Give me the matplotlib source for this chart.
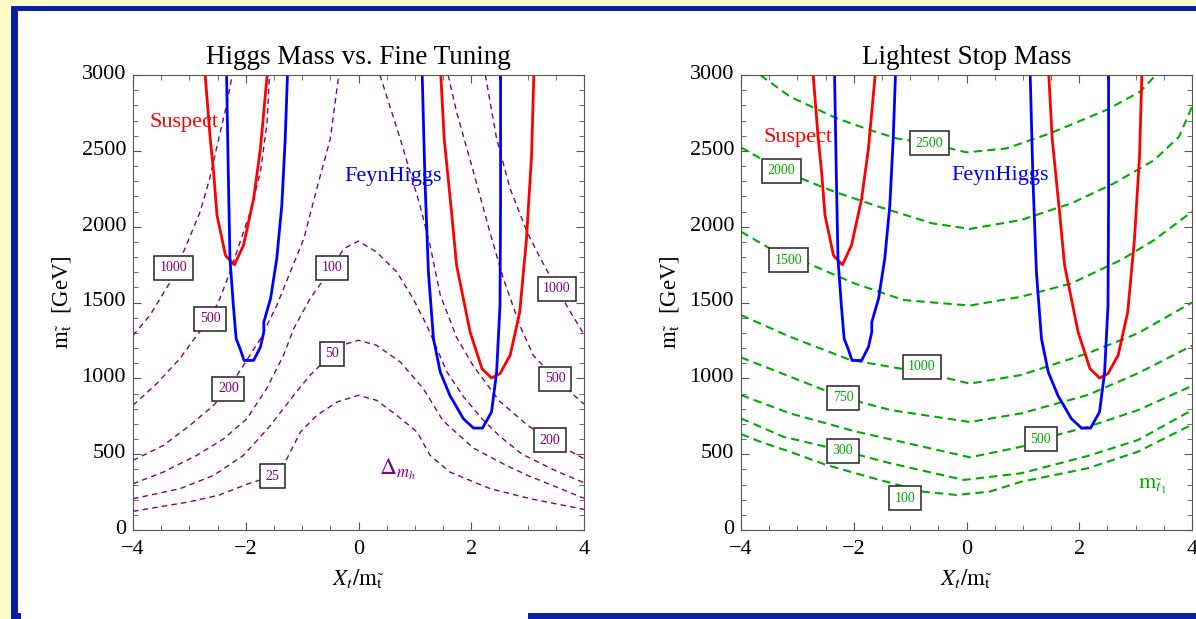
import matplotlib
matplotlib.use("Agg")
import matplotlib.pyplot as plt
from matplotlib.patches import Rectangle
from matplotlib.ticker import MultipleLocator
from matplotlib.transforms import ScaledTranslation

plt.rcParams['font.family'] = ['Liberation Serif', 'DejaVu Serif']
plt.rcParams['mathtext.fontset'] = 'stix'

# Suspect (red) and FeynHiggs (blue) m_h = 125 GeV curves, shared by both panels
suspect_l_x = [-2.72, -2.63, -2.57, -2.51, -2.36, -2.28, -2.2, -2.04, -1.86, -1.74, -1.62]
suspect_l_y = [3000, 2580, 2360, 2075, 1811, 1778, 1749, 1877, 2185, 2514, 3000]
suspect_r_x = [1.46, 1.52, 1.65, 1.74, 1.98, 2.19, 2.36, 2.51, 2.69, 2.86, 2.98, 3.07, 3.11]
suspect_r_y = [3000, 2580, 2097, 1745, 1305, 1064, 1002, 1031, 1152, 1437, 1921, 2470, 3000]
feyn_l_x = [-2.34, -2.31, -2.28, -2.22, -2.17, -2.1, -2.03, -1.86, -1.74, -1.68, -1.68,
            -1.56, -1.45, -1.36, -1.30, -1.26]
feyn_l_y = [3000, 2360, 1789, 1481, 1261, 1195, 1118, 1118, 1206, 1305, 1371,
            1525, 1789, 2141, 2580, 3000]
feyn_r_x = [1.13, 1.18, 1.24, 1.33, 1.45, 1.62, 1.86, 2.04, 2.2, 2.36, 2.45, 2.51, 2.52, 2.52]
feyn_r_y = [3000, 2294, 1701, 1261, 1042, 888, 734, 672, 672, 778, 1042, 1481, 2141, 3000]

# fine tuning contours (left panel), each as separate branches
ft_levels = ['1000', '500', '200', '100', '50', '25']
ft_lines = {
    '1000': [([-4, -3.70, -3.34, -3.08, -2.81, -2.64, -2.48, -2.34, -2.24],
              [1283, 1415, 1635, 1855, 2097, 2316, 2580, 2800, 3000]),
             ([2.25, 2.45, 2.69, 2.99, 3.23, 3.52, 3.76, 4.0],
              [3000, 2580, 2250, 1965, 1789, 1591, 1437, 1290])],
    '500': [([-4, -3.58, -3.17, -2.87, -2.63, -2.46, -2.28, -2.1, -1.92, -1.74, -1.62, -1.58],
             [822, 965, 1129, 1283, 1393, 1525, 1701, 1899, 2097, 2360, 2690, 3000]),
            ([1.59, 1.74, 2.04, 2.33, 2.57, 2.86, 3.1, 3.49, 4.0],
             [3000, 2756, 2360, 1965, 1657, 1350, 1152, 998, 830])],
    '200': [([-4, -3.46, -2.99, -2.57, -2.31, -2.04, -1.74, -1.45, -1.21, -0.97, -0.74, -0.5, -0.35],
             [459, 558, 690, 822, 932, 1086, 1261, 1481, 1701, 1921, 2250, 2580, 3000]),
            ([0.38, 0.74, 1.09, 1.27, 1.45, 1.74, 2.04, 2.5, 3.0, 3.4, 4.0],
             [3000, 2580, 2141, 1877, 1550, 1270, 1080, 850, 690, 591, 470])],
    '100': [([-4, -3.46, -2.87, -2.39, -1.98, -1.63, -1.33, -1.15, -0.86, -0.47, -0.26, 0,
              0.32, 0.68, 0.97, 1.21, 1.39, 1.57, 1.86, 2.2, 2.5, 2.9, 3.5, 4.0],
             [305, 382, 492, 602, 734, 932, 1152, 1327, 1525, 1730, 1855, 1905,
              1833, 1701, 1525, 1350, 1195, 1042, 880, 730, 620, 500, 390, 312])],
    '50': [([-4, -3.17, -2.57, -2.04, -1.56, -1.15, -0.86, -0.47, -0.21, 0,
             0.32, 0.74, 1.15, 1.5, 2.04, 2.6, 3.0, 3.5, 4.0],
            [206, 272, 360, 492, 690, 888, 1020, 1163, 1228, 1251,
             1218, 1108, 932, 720, 540, 430, 360, 285, 209])],
    '25': [([-4, -3.01, -2.48, -1.95, -1.53, -1.27, -1.03, -0.74, -0.38, 0,
             0.32, 0.68, 1.04, 1.27, 1.62, 2.34, 3.05, 4.0],
            [123, 185, 229, 306, 354, 470, 646, 756, 844, 888,
             855, 756, 646, 492, 382, 272, 206, 136])],
}
ft_label_x = [-3.28, 3.52, -2.63, 3.49, -2.31, 3.40, -0.47, -0.47, -1.53]
ft_label_y = [1730, 1591, 1393, 998, 932, 591, 1730, 1163, 354]
ft_label_txt = ['1000', '1000', '500', '500', '200', '200', '100', '50', '25']

# lightest stop mass contours (right panel)
stop_lines = {
    '2500': ([-3.66, -3.13, -2.3, -1.71, -1.24, -0.66, 0.0, 0.71, 1.48, 2.48, 3.08, 3.36],
             [3000, 2857, 2714, 2637, 2582, 2549, 2490, 2516, 2615, 2769, 2890, 3000]),
    '2000': ([-4, -3.28, -2.35, -1.56, -0.61, 0.06, 0.97, 1.86, 2.62, 3.33, 3.77, 4.0],
             [2523, 2369, 2231, 2132, 2022, 1985, 2044, 2154, 2286, 2439, 2593, 2790]),
    '1500': ([-4, -3.49, -2.81, -1.99, -1.11, 0.06, 0.97, 1.86, 2.74, 3.33, 4.0],
             [1967, 1857, 1758, 1626, 1516, 1480, 1538, 1626, 1780, 1912, 2099]),
    '1000': ([-4, -3.13, -2.06, -0.79, 0.06, 0.97, 2.15, 3.04, 4.0],
             [1417, 1274, 1121, 1040, 965, 1022, 1165, 1297, 1500]),
    '750': ([-4, -3.13, -2.18, -1.35, 0.06, 0.97, 2.15, 3.04, 4.0],
            [1138, 1011, 872, 791, 712, 769, 890, 1033, 1215]),
    '500': ([-4, -3.13, -1.95, -0.77, 0.06, 0.97, 1.31, 2.15, 3.04, 4.0],
            [890, 769, 648, 549, 479, 549, 598, 680, 790, 950]),
    '300': ([-4, -3.25, -2.18, -1.35, -0.05, 0.97, 2.15, 3.04, 4.0],
            [736, 615, 521, 440, 330, 374, 488, 593, 790]),
    '100': ([-4, -3.66, -3.13, -2.48, -1.65, -0.77, -0.18, 0.41, 0.97, 2.15, 3.04, 4.0],
            [633, 582, 516, 428, 341, 253, 231, 253, 318, 407, 516, 695]),
}
stop_label_txt = ['2500', '2000', '1500', '1000', '750', '500', '300', '100']
stop_label_x = [-0.66, -3.28, -3.16, -0.79, -2.19, 1.32, -2.19, -1.09]
stop_label_y = [2549, 2369, 1780, 1077, 872, 598, 521, 209]

W, H = 1196, 619
fig = plt.figure(figsize=(W / 100, H / 100), dpi=100)
fig.patch.set_facecolor('#fffcc9')


def px_rect(x0, y0, x1, y1, color):
    fig.patches.append(Rectangle((x0 / W, 1 - y1 / H), (x1 - x0) / W, (y1 - y0) / H,
                                 transform=fig.transFigure, facecolor=color,
                                 edgecolor='none', zorder=-5))


blue = '#0a1ea8'
px_rect(18, 11, W, H, 'white')
px_rect(11, 6, W, 11, blue)
px_rect(11, 6, 18, H, blue)
px_rect(528, 613, W, H, blue)
px_rect(11, 613, 21, H, blue)

purple = '#800080'
green = '#00aa00'
xlab = r'$X_t/\mathrm{m}_{\tilde{\mathrm{t}}}$'
ylab = r'$\mathrm{m}_{\tilde{\mathrm{t}}}$  [GeV]'


def style_axes(ax, title):
    ax.set_xlim(-4, 4)
    ax.set_ylim(0, 3000)
    ax.set_xticks([-4, -2, 0, 2, 4])
    ax.set_yticks(range(0, 3001, 500))
    ax.xaxis.set_minor_locator(MultipleLocator(0.5))
    ax.yaxis.set_minor_locator(MultipleLocator(100))
    ax.tick_params(which='both', direction='in', top=True, right=True,
                   labelsize=16, color='#555555')
    ax.tick_params(axis='x', pad=7)
    ax.tick_params(axis='y', pad=5)
    ax.tick_params(which='major', length=6)
    ax.tick_params(which='minor', length=3.5)
    # y tick numbers sit slightly above their ticks, as in the original
    up = ScaledTranslation(0, 3 / 100, fig.dpi_scale_trans)
    for lbl in ax.get_yticklabels():
        lbl.set_transform(lbl.get_transform() + up)
    for s in ax.spines.values():
        s.set_color('#555555')
    ax.set_title(title, fontsize=19.5, pad=8)
    ax.set_xlabel(xlab, fontsize=16.5, labelpad=6)
    ax.set_ylabel(ylab, fontsize=16.5, labelpad=6)


def draw_higgs(ax):
    ax.plot(suspect_l_x, suspect_l_y, color='red', lw=2)
    ax.plot(suspect_r_x, suspect_r_y, color='red', lw=2)
    ax.plot(feyn_l_x, feyn_l_y, color='blue', lw=2)
    ax.plot(feyn_r_x, feyn_r_y, color='blue', lw=2)


def box_label(ax, x, y, s, color):
    ax.text(x, y, s, color=color, fontsize=10, ha='center', va='center', zorder=5,
            bbox=dict(boxstyle='square,pad=0.4', fc='white', ec='#333333', lw=1.2))


# left panel
ax1 = fig.add_axes([133 / W, 1 - 530 / H, 451 / W, 455 / H])
for lev in ft_levels:
    for xs, ys in ft_lines[lev]:
        ax1.plot(xs, ys, color=purple, lw=1, dashes=(4, 3))
draw_higgs(ax1)
for x, y, s in zip(ft_label_x, ft_label_y, ft_label_txt):
    box_label(ax1, x, y, s, purple)
ax1.text(-3.1, 2690, 'Suspect', color='red', fontsize=16, ha='center', va='center')
ax1.text(0.62, 2330, 'FeynHiggs', color='blue', fontsize=16, ha='center', va='center')
ax1.text(0.69, 400, r'$\Delta_{m_h}$', color=purple, fontsize=17, ha='center', va='center')
style_axes(ax1, 'Higgs Mass vs. Fine Tuning')

# right panel
ax2 = fig.add_axes([741 / W, 1 - 530 / H, 451 / W, 455 / H])
for lev in stop_label_txt:
    xs, ys = stop_lines[lev]
    ax2.plot(xs, ys, color=green, lw=1.5, dashes=(4, 2.5))
draw_higgs(ax2)
for x, y, s in zip(stop_label_x, stop_label_y, stop_label_txt):
    box_label(ax2, x, y, s, green)
ax2.text(-2.99, 2589, 'Suspect', color='red', fontsize=16, ha='center', va='center')
ax2.text(0.59, 2340, 'FeynHiggs', color='blue', fontsize=16, ha='center', va='center')
ax2.text(3.3, 290, r'$\mathrm{m}_{\tilde{t}_1}$', color=green, fontsize=16,
         ha='center', va='center')
style_axes(ax2, 'Lightest Stop Mass')

fig.savefig('out.png', dpi=100, facecolor=fig.get_facecolor())
